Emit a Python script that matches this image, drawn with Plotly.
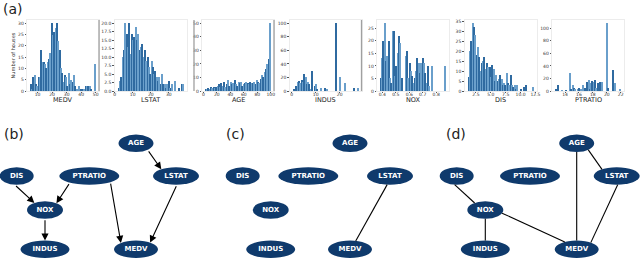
import math
import plotly.graph_objects as go

W, H = 640, 260

# ------------------------------------------------------------------ data
# Histograms: 50 equal bins between the variable's min and max value
medv_range = [5.0, 50.0]
medv_counts = [3, 1, 6, 7, 3, 2, 6, 6, 18, 13, 13, 12, 10, 13, 14, 17, 30, 25, 26, 28,
               30, 22, 18, 10, 8, 4, 7, 6, 2, 8, 3, 5, 4, 7, 2, 1, 0, 2, 1, 0,
               1, 1, 2, 2, 2, 2, 1, 0, 0, 12]
lstat_range = [1.73, 37.97]
lstat_counts = [1, 3, 4, 10, 12, 20, 17, 13, 20, 11, 17, 15, 16, 19, 15, 17, 12, 13, 14, 10,
                12, 9, 10, 7, 5, 9, 7, 5, 6, 4, 3, 4, 2, 5, 2, 2, 1, 2, 3, 1,
                1, 2, 0, 3, 0, 0, 1, 0, 2, 2]
age_range = [2.9, 100.0]
age_counts = [1, 1, 2, 1, 3, 2, 3, 2, 3, 4, 5, 3, 6, 4, 7, 3, 5, 8, 4, 7,
              5, 6, 8, 5, 4, 7, 6, 7, 4, 5, 6, 7, 6, 5, 7, 6, 6, 7, 5, 8,
              7, 6, 9, 12, 10, 14, 16, 20, 24, 50]
indus_range = [0.46, 27.74]
indus_counts = [2, 0, 8, 13, 15, 12, 16, 13, 25, 20, 10, 13, 10, 3, 30, 0, 8, 10, 2, 0,
                0, 4, 0, 0, 5, 2, 0, 0, 0, 0, 0, 0, 100, 0, 0, 20, 0, 0, 0, 12,
                0, 0, 0, 0, 0, 0, 4, 0, 0, 4]
nox_range = [0.385, 0.871]
nox_counts = [5, 13, 20, 27, 12, 14, 20, 5, 3, 24, 24, 6, 10, 15, 22, 19, 5, 0, 0, 14,
              16, 5, 11, 8, 6, 3, 5, 8, 13, 11, 7, 11, 13, 11, 7, 3, 10, 2, 0, 10,
              0, 0, 0, 0, 0, 0, 0, 0, 0, 10]
dis_range = [1.13, 12.13]
dis_counts = [7, 20, 25, 34, 32, 28, 18, 22, 17, 10, 14, 15, 17, 11, 14, 12, 12, 7, 13, 11,
              5, 8, 5, 6, 8, 6, 3, 4, 3, 9, 4, 3, 8, 3, 2, 3, 1, 3, 0, 0,
              1, 0, 2, 0, 3, 0, 0, 0, 0, 2]
ptratio_range = [12.6, 22.0]
ptratio_counts = [3, 0, 10, 0, 0, 1, 0, 0, 1, 0, 0, 28, 3, 10, 5, 3, 0, 2, 5, 2,
                  0, 10, 5, 0, 15, 17, 3, 12, 16, 15, 17, 5, 13, 0, 14, 14, 0, 0, 0, 108,
                  5, 0, 0, 0, 34, 13, 0, 0, 0, 2]

hist_names = ["MEDV", "LSTAT", "AGE", "INDUS", "NOX", "DIS", "PTRATIO"]
hist_ranges = [medv_range, lstat_range, age_range, indus_range, nox_range, dis_range, ptratio_range]
hist_counts = [medv_counts, lstat_counts, age_counts, indus_counts, nox_counts, dis_counts, ptratio_counts]
x_ticks = [[10, 20, 30, 40, 50], [0, 10, 20, 30], [0, 20, 40, 60, 80, 100], [0, 10, 20],
           [0.4, 0.5, 0.6, 0.7, 0.8], [2.5, 5.0, 7.5, 10.0, 12.5], [14, 16, 18, 20, 22]]
y_ticks = [[0, 5, 10, 15, 20, 25, 30], [0, 2.5, 5, 7.5, 10, 12.5, 15, 17.5, 20],
           [0, 10, 20, 30, 40, 50], [0, 20, 40, 60, 80, 100], [0, 5, 10, 15, 20, 25],
           [0, 5, 10, 15, 20, 25, 30, 35], [0, 20, 40, 60, 80, 100]]
x_fmt = ["d", "d", "d", "d", ".1f", ".1f", "d"]
y_fmt = ["d", ".1f", "d", "d", "d", "d", "d"]

# Causal graphs (node centres in figure pixels)
node_names = ["AGE", "DIS", "PTRATIO", "LSTAT", "NOX", "INDUS", "MEDV"]
node_halfw = [17.5, 17, 30, 23, 18, 24.5, 22]
node_y = [143.3, 176, 176, 176, 210, 249.3, 249.3]
node_x_b = [136, 16.7, 89.3, 176, 45, 45, 136]
node_x_c = [350, 242.7, 308.3, 390, 270.7, 270.7, 350]
node_x_d = [576.7, 456.7, 530, 616.7, 485.3, 485.3, 576.7]
# (source, target, source port dx, target port dx)
edges_b = [("DIS", "NOX", -11.5, -3), ("PTRATIO", "NOX", -15, 7), ("NOX", "INDUS", 0, 0),
           ("AGE", "LSTAT", 7, -10), ("PTRATIO", "MEDV", 20, -14), ("LSTAT", "MEDV", 5, 11)]
edges_c = [("LSTAT", "MEDV", 2, 1)]
edges_d = [("DIS", "NOX", -11.5, -3), ("NOX", "INDUS", 0, 0), ("NOX", "MEDV", 10, 4),
           ("AGE", "MEDV", 0, 0), ("AGE", "LSTAT", 7, -10), ("LSTAT", "MEDV", 5, 11)]
panel_labels = ["(a)", "(b)", "(c)", "(d)"]

# ------------------------------------------------------------------ style
FONT = "DejaVu Sans"
C_DARK, C_LIGHT = "#2f6aa0", "#6a9fcb"
NAVY = "#0f3a6c"
NODE_HH = 8.7

fig = go.Figure()
layout = dict(
    width=W, height=H, margin=dict(l=0, r=0, t=0, b=0),
    paper_bgcolor="white", plot_bgcolor="rgba(0,0,0,0)",
    showlegend=False, bargap=0, hovermode=False, template="none",
    font=dict(family=FONT, color="#333"),
)
shapes, annotations = [], []

y_dom = [1 - 91 / H, 1 - 20 / H]
for k in range(7):
    idx = "" if k == 0 else str(k + 1)
    lo, hi = hist_ranges[k]
    cnt = hist_counts[k]
    n = len(cnt)
    w = (hi - lo) / n
    centers = [lo + w * (i + 0.5) for i in range(n)]
    cols = [C_DARK if i % 2 == 0 else C_LIGHT for i in range(n)]
    fig.add_trace(go.Bar(x=centers, y=cnt, width=w, marker=dict(color=cols, line=dict(width=0)),
                         xaxis="x" + idx, yaxis="y" + idx))
    left = 27 + 87.5 * k
    span = hi - lo
    layout["xaxis" + idx] = dict(
        domain=[left / W, (left + 72) / W], range=[lo - 0.05 * span, hi + 0.05 * span],
        anchor="y" + idx, tickvals=x_ticks[k], tickformat=x_fmt[k],
        ticks="outside", ticklen=1.5, tickwidth=0.5, tickcolor="#555",
        ticklabelstandoff=-3,
        tickfont=dict(size=4.5, color="#333"), showgrid=False, zeroline=False,
        showline=True, mirror=True, linecolor="#ececec", linewidth=0.6,
        automargin=False,
    )
    layout["yaxis" + idx] = dict(
        domain=y_dom, range=[0, max(cnt) * 1.05], anchor="x" + idx,
        tickvals=y_ticks[k], tickformat=y_fmt[k],
        ticks="outside", ticklen=1.5, tickwidth=0.5, tickcolor="#555",
        tickfont=dict(size=4.5, color="#333"), showgrid=False, zeroline=False,
        showline=True, mirror=True, linecolor="#ececec", linewidth=0.6,
        automargin=False,
    )
    annotations.append(dict(x=(left + 36) / W, y=1 - 100 / H, xref="paper", yref="paper",
                            text=hist_names[k], showarrow=False,
                            font=dict(family=FONT, size=6.5, color="#222"),
                            xanchor="center", yanchor="middle"))
    if k == 0:
        layout["yaxis"]["title"] = dict(text="Number of houses", font=dict(size=5, color="#333"), standoff=2)
    if k < 4:
        xr = 1.104 if k == 1 else 1.0
        shapes.append(dict(type="line", xref=f"x{idx} domain", yref=f"y{idx} domain",
                           x0=xr, x1=xr, y0=0, y1=1, line=dict(color="#a0a0a0", width=1.3)))

# ---------------------------------------------------------- graph panels
layout["xaxis8"] = dict(domain=[0, 1], range=[0, W], visible=False, anchor="y8", fixedrange=True)
layout["yaxis8"] = dict(domain=[0, 1], range=[H, 0], visible=False, anchor="x8", fixedrange=True)


def clip(c, a, b, p0, p1):
    dx, dy = p1[0] - p0[0], p1[1] - p0[1]
    qx, qy = p0[0] - c[0], p0[1] - c[1]
    A = (dx / a) ** 2 + (dy / b) ** 2
    B = 2 * (qx * dx / a ** 2 + qy * dy / b ** 2)
    C = (qx / a) ** 2 + (qy / b) ** 2 - 1
    t = (-B + math.sqrt(B * B - 4 * A * C)) / (2 * A)
    return (p0[0] + t * dx, p0[1] + t * dy)


for xs, edges, directed in [(node_x_b, edges_b, True), (node_x_c, edges_c, False), (node_x_d, edges_d, False)]:
    pos = {nm: (xs[i], node_y[i]) for i, nm in enumerate(node_names)}
    hw = {nm: node_halfw[i] for i, nm in enumerate(node_names)}
    for s, t, sdx, tdx in edges:
        ps = (pos[s][0] + sdx, pos[s][1])
        pt = (pos[t][0] + tdx, pos[t][1])
        start = clip(pos[s], hw[s], NODE_HH, ps, pt)
        end = clip(pos[t], hw[t], NODE_HH, pt, ps)
        if directed:
            annotations.append(dict(x=end[0], y=end[1], ax=start[0], ay=start[1],
                                    xref="x8", yref="y8", axref="x8", ayref="y8", text="",
                                    showarrow=True, arrowhead=2, arrowsize=1.3, arrowwidth=1.1,
                                    arrowcolor="black", standoff=0, startstandoff=0))
        else:
            fig.add_trace(go.Scatter(x=[start[0], end[0]], y=[start[1], end[1]], mode="lines",
                                     line=dict(color="black", width=1.1), xaxis="x8", yaxis="y8"))
    for i, nm in enumerate(node_names):
        shapes.append(dict(type="circle", xref="x8", yref="y8", layer="below",
                           x0=xs[i] - node_halfw[i], x1=xs[i] + node_halfw[i],
                           y0=node_y[i] - NODE_HH, y1=node_y[i] + NODE_HH,
                           fillcolor=NAVY, line=dict(width=0)))
    fig.add_trace(go.Scatter(x=xs, y=node_y, mode="text", text=node_names,
                             textfont=dict(family=FONT, size=7, color="white", weight="bold"),
                             textposition="middle center", xaxis="x8", yaxis="y8"))

label_pos = [(13, 9), (14, 134), (235, 134), (455.5, 134)]
for (lx, ly), lab in zip(label_pos, panel_labels):
    annotations.append(dict(x=lx / W, y=1 - ly / H, xref="paper", yref="paper", text=lab,
                            showarrow=False, font=dict(family=FONT, size=14, color="#222"),
                            xanchor="center", yanchor="middle"))

layout["shapes"] = shapes
layout["annotations"] = annotations
fig.update_layout(**layout)
fig.write_html("out.html", config={"displayModeBar": False},
               post_script="document.body.style.margin='0px';")
